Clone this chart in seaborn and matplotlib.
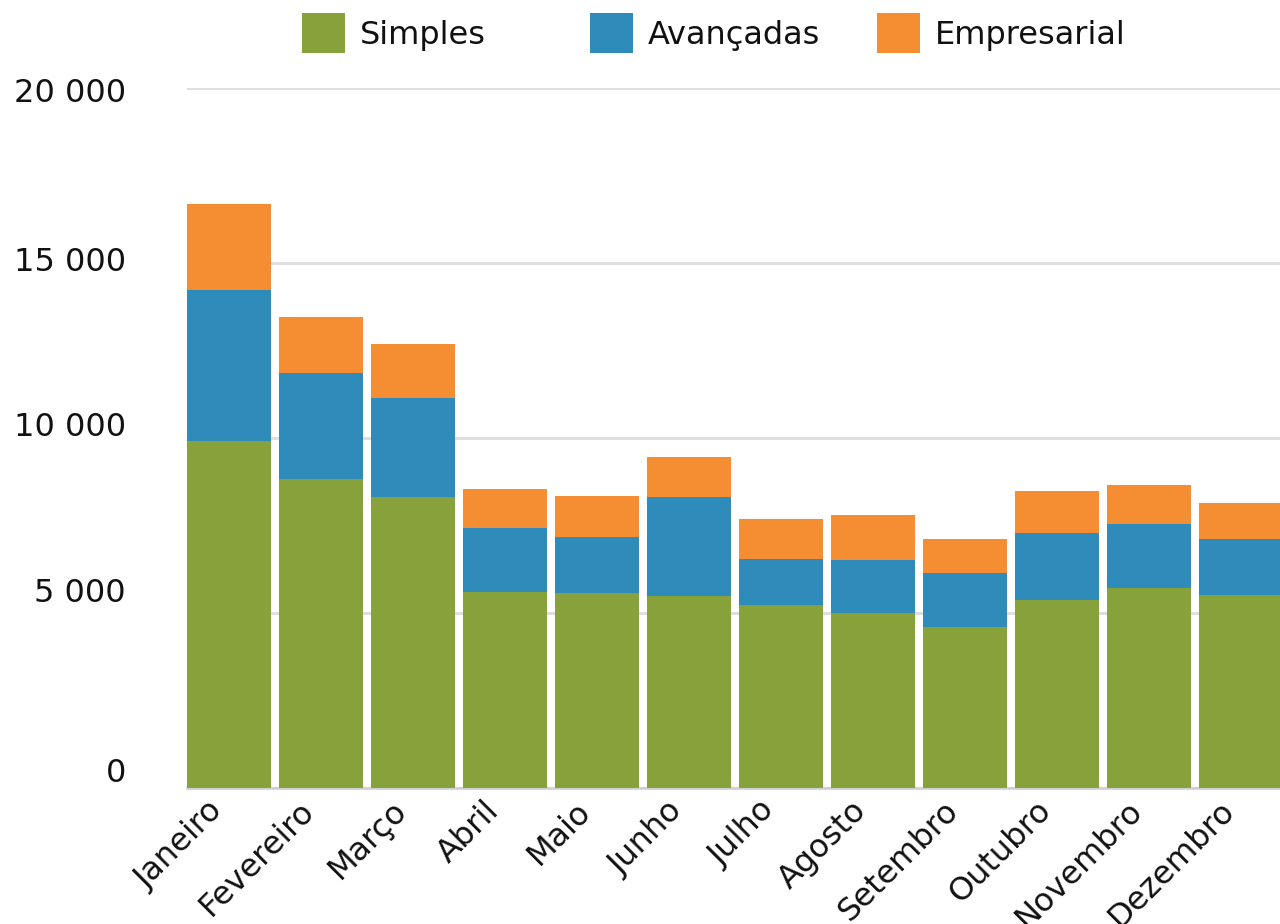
import matplotlib
matplotlib.use("Agg")
import matplotlib.pyplot as plt
import matplotlib.transforms as mtransforms
import seaborn as sns
import pandas as pd
import numpy as np
from matplotlib.patches import Patch

months = ["Janeiro", "Fevereiro", "Março", "Abril", "Maio", "Junho",
          "Julho", "Agosto", "Setembro", "Outubro", "Novembro", "Dezembro"]
simples = [9900, 8830, 8310, 5600, 5570, 5490, 5230, 5000, 4600, 5370, 5710, 5510]
avancadas = [4330, 3030, 2830, 1830, 1600, 2830, 1310, 1510, 1540, 1920, 1830, 1600]
empresarial = [2460, 1600, 1540, 1110, 1170, 1140, 1150, 1290, 970, 1200, 1110, 1030]
series_names = ["Simples", "Avançadas", "Empresarial"]
colors = ["#87A13B", "#2E8BBA", "#F58E32"]
yticks = [0, 5000, 10000, 15000, 20000]
ytick_labels = ["0", "5 000", "10 000", "15 000", "20 000"]

sns.set_theme(style="white")
plt.rcParams['font.family'] = ['DejaVu Sans']

df = pd.DataFrame({"month": months, "s": simples, "a": avancadas, "e": empresarial})
df["sa"] = df["s"] + df["a"]
df["sae"] = df["sa"] + df["e"]

fig = plt.figure(figsize=(12.8, 9.24), dpi=100)
ax = fig.add_axes([187/1280, 1 - 788/924, 1 - 187/1280, (788 - 88)/924])

bw = 84/92
for col, c in zip(["sae", "sa", "s"], [colors[2], colors[1], colors[0]]):
    sns.barplot(data=df, x="month", y=col, color=c, saturation=1, width=bw,
                linewidth=0, edgecolor="none", ax=ax, zorder=3)

ax.set_xlim(-bw/2, 11 + 39/92)
ax.set_ylim(0, 20000)
ax.set_yticks(yticks)
ax.set_yticklabels(ytick_labels)
ax.set_xlabel("")
ax.set_ylabel("")
ax.yaxis.grid(True, color="#DDDDDD", linewidth=2, zorder=0)
ax.set_axisbelow(True)
for s in ["top", "right", "left"]:
    ax.spines[s].set_visible(False)
ax.spines["bottom"].set_color("#D0D0D0")
ax.spines["bottom"].set_linewidth(2)
ax.tick_params(axis="y", length=0, pad=44, labelsize=23, labelcolor="#111111")
ax.tick_params(axis="x", length=0, pad=21, labelsize=23, labelcolor="#111111")
for lab in ax.get_xticklabels():
    lab.set_rotation(45)
    lab.set_ha("right")
    lab.set_rotation_mode("anchor")
    lab.set_va("bottom")

# small vertical offsets of y labels as in the reference
yoff = [18, 23, 14, 4, -2]
for lab, dy in zip(ax.get_yticklabels(), yoff):
    lab.set_transform(lab.get_transform() + mtransforms.ScaledTranslation(0, dy/100, fig.dpi_scale_trans))

lx = [302, 590, 877]
for name, c, x in zip(series_names, colors, lx):
    leg = fig.legend(handles=[Patch(facecolor=c, edgecolor="none")], labels=[name],
                     loc="center left", bbox_to_anchor=(x/1280, 1 - 33/924),
                     frameon=False, fontsize=23, handlelength=1.35, handleheight=1.55,
                     handletextpad=0.45, borderpad=0, borderaxespad=0)
    for t in leg.get_texts():
        t.set_color("#111111")

fig.savefig("out.png", dpi=100)
